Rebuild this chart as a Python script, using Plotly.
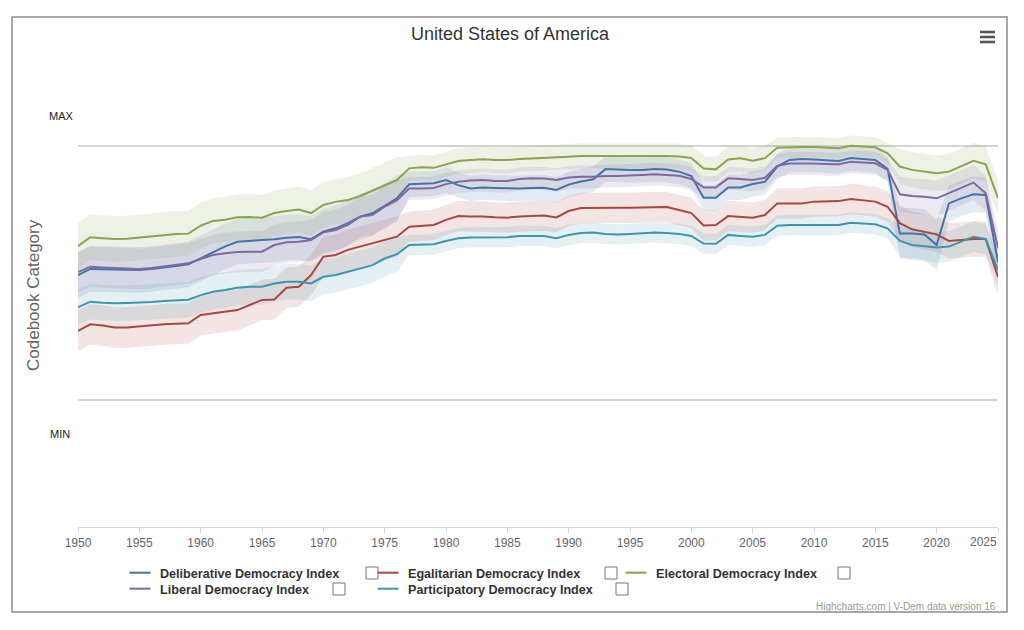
import plotly.graph_objects as go

# ---------------- data ----------------
years = list(range(1950, 2026))

deliberative = [
    0.492, 0.516, 0.515, 0.514, 0.512, 0.512, 0.516, 0.521, 0.528, 0.534,
    0.558, 0.584, 0.605, 0.623, 0.626, 0.630, 0.633, 0.639, 0.642, 0.633,
    0.663, 0.676, 0.696, 0.722, 0.735, 0.764, 0.794, 0.849, 0.850, 0.853,
    0.866, 0.846, 0.833, 0.837, 0.835, 0.833, 0.833, 0.835, 0.836, 0.827,
    0.848, 0.860, 0.869, 0.909, 0.907, 0.906, 0.906, 0.909, 0.907, 0.899,
    0.882, 0.796, 0.796, 0.837, 0.837, 0.850, 0.859, 0.919, 0.945, 0.949,
    0.947, 0.945, 0.941, 0.953, 0.949, 0.945, 0.910, 0.656, 0.656, 0.652,
    0.610, 0.774, 0.794, 0.810, 0.807, 0.543,
]
egalitarian = [
    0.272, 0.298, 0.293, 0.285, 0.285, 0.290, 0.295, 0.298, 0.300, 0.302,
    0.335, 0.341, 0.348, 0.354, 0.374, 0.394, 0.396, 0.442, 0.446, 0.492,
    0.564, 0.571, 0.591, 0.604, 0.617, 0.630, 0.643, 0.682, 0.685, 0.689,
    0.709, 0.724, 0.722, 0.722, 0.719, 0.718, 0.722, 0.724, 0.726, 0.719,
    0.744, 0.756, 0.757, 0.757, 0.757, 0.757, 0.758, 0.761, 0.760, 0.748,
    0.736, 0.687, 0.689, 0.724, 0.720, 0.718, 0.728, 0.774, 0.774, 0.774,
    0.781, 0.781, 0.783, 0.791, 0.787, 0.781, 0.761, 0.696, 0.672, 0.663,
    0.652, 0.626, 0.630, 0.634, 0.634, 0.484,
]
electoral = [
    0.606, 0.641, 0.637, 0.634, 0.635, 0.639, 0.644, 0.650, 0.654, 0.655,
    0.686, 0.705, 0.710, 0.719, 0.720, 0.718, 0.736, 0.744, 0.750, 0.736,
    0.768, 0.780, 0.787, 0.803, 0.825, 0.846, 0.866, 0.912, 0.916, 0.914,
    0.928, 0.941, 0.945, 0.948, 0.945, 0.945, 0.949, 0.951, 0.952, 0.955,
    0.958, 0.961, 0.961, 0.961, 0.961, 0.962, 0.961, 0.961, 0.961, 0.959,
    0.953, 0.911, 0.908, 0.947, 0.952, 0.942, 0.952, 0.993, 0.995, 0.996,
    0.996, 0.994, 0.991, 1.001, 0.998, 0.995, 0.971, 0.919, 0.906, 0.899,
    0.893, 0.899, 0.919, 0.942, 0.928, 0.795,
]
liberal = [
    0.504, 0.525, 0.522, 0.519, 0.517, 0.516, 0.520, 0.526, 0.531, 0.538,
    0.555, 0.571, 0.578, 0.583, 0.584, 0.584, 0.610, 0.621, 0.623, 0.630,
    0.660, 0.669, 0.689, 0.722, 0.728, 0.761, 0.787, 0.833, 0.833, 0.835,
    0.850, 0.859, 0.864, 0.866, 0.862, 0.862, 0.870, 0.873, 0.872, 0.866,
    0.876, 0.879, 0.879, 0.882, 0.882, 0.883, 0.886, 0.889, 0.886, 0.883,
    0.870, 0.837, 0.837, 0.873, 0.870, 0.866, 0.875, 0.922, 0.931, 0.932,
    0.931, 0.929, 0.928, 0.938, 0.936, 0.932, 0.906, 0.810, 0.803, 0.800,
    0.794, 0.814, 0.833, 0.856, 0.814, 0.597,
]
participatory = [
    0.365, 0.387, 0.383, 0.381, 0.382, 0.383, 0.386, 0.390, 0.393, 0.395,
    0.413, 0.426, 0.433, 0.442, 0.446, 0.446, 0.459, 0.466, 0.466, 0.459,
    0.485, 0.492, 0.505, 0.519, 0.531, 0.557, 0.574, 0.610, 0.611, 0.613,
    0.626, 0.637, 0.640, 0.641, 0.641, 0.641, 0.646, 0.647, 0.646, 0.637,
    0.650, 0.657, 0.659, 0.654, 0.652, 0.654, 0.656, 0.659, 0.657, 0.654,
    0.646, 0.616, 0.615, 0.650, 0.646, 0.643, 0.650, 0.686, 0.689, 0.689,
    0.689, 0.689, 0.689, 0.698, 0.696, 0.692, 0.676, 0.626, 0.610, 0.604,
    0.600, 0.604, 0.623, 0.643, 0.634, 0.512,
]

# half-widths of the confidence bands (read by era: 1950-76, 1977-2016, 2017-25)
ci_deliberative = [0.09] * 27 + [0.05] * 40 + [0.10] * 4 + [0.07] * 5
ci_egalitarian = [0.08] * 27 + [0.06] * 40 + [0.07] * 9
ci_electoral = [0.09] * 27 + [0.05] * 30 + [0.04] * 10 + [0.07] * 9
ci_liberal = [0.08] * 27 + [0.045] * 40 + [0.07] * 9
ci_participatory = [0.07] * 27 + [0.04] * 40 + [0.06] * 9

series_names = [
    "Deliberative Democracy Index",
    "Egalitarian Democracy Index",
    "Electoral Democracy Index",
    "Liberal Democracy Index",
    "Participatory Democracy Index",
]
series_values = [deliberative, egalitarian, electoral, liberal, participatory]
series_ci = [ci_deliberative, ci_egalitarian, ci_electoral, ci_liberal, ci_participatory]
series_colors = ["#4572A7", "#AA4643", "#89A54E", "#80699B", "#3D96AE"]
series_legend = ["legend", "legend", "legend", "legend2", "legend2"]

x_ticks = list(range(1950, 2026, 5))

# ---------------- layout geometry ----------------
W, H = 1024, 630
ML, MR, MT, MB = 78, 26, 60, 103
PW = W - ML - MR
PH = H - MT - MB
Y_LOW = -0.5
Y_HIGH = Y_LOW + PH / 254.0


def px(x):
    return (x - ML) / PW


def py(y):
    return (H - MB - y) / PH


def rgba(hex_color, a):
    h = hex_color.lstrip("#")
    return "rgba(%d,%d,%d,%.3f)" % (int(h[0:2], 16), int(h[2:4], 16), int(h[4:6], 16), a)


fig = go.Figure()

# bands
for name, vals, ci, col in zip(series_names, series_values, series_ci, series_colors):
    upper = [v + c for v, c in zip(vals, ci)]
    lower = [v - c for v, c in zip(vals, ci)]
    fig.add_trace(go.Scatter(x=years, y=upper, mode="lines", line=dict(width=0, color=col),
                             legendgroup=name, showlegend=False, hoverinfo="skip"))
    fig.add_trace(go.Scatter(x=years, y=lower, mode="lines", line=dict(width=0, color=col),
                             fill="tonexty", fillcolor=rgba(col, 0.14), legendgroup=name,
                             showlegend=False, hoverinfo="skip"))

# lines
for name, vals, col in zip(series_names, series_values, series_colors):
    fig.add_trace(go.Scatter(x=years, y=vals, mode="lines", name=name, legendgroup=name,
                             line=dict(color=col, width=2), showlegend=False))

# legend entries (short line symbols, grouped with the series they toggle)
for name, col, lg in zip(series_names, series_colors, series_legend):
    fig.add_trace(go.Scatter(x=[None], y=[None], mode="markers", name=name, legendgroup=name,
                             marker=dict(symbol="line-ew", size=15, color=col,
                                         line=dict(width=2, color=col)),
                             legend=lg, showlegend=True, hoverinfo="skip"))

FONT = "Liberation Sans"
legend_common = dict(
    orientation="h", xanchor="left", yanchor="middle", traceorder="normal",
    entrywidth=203, entrywidthmode="pixels",
    font=dict(family=FONT, size=12.6, color="#333333", weight="bold"),
    bgcolor="rgba(0,0,0,0)", borderwidth=0, itemwidth=30,
)

annotations = [
    dict(x=px(510), y=py(34), text="United States of America",
         font=dict(family=FONT, size=18, color="#333333")),
    dict(x=px(61), y=py(116), text="MAX", font=dict(family=FONT, size=11, color="#222222")),
    dict(x=px(60), y=py(434), text="MIN", font=dict(family=FONT, size=11, color="#222222")),
    dict(x=px(33), y=py(295), text="Codebook Category", textangle=-90,
         font=dict(family=FONT, size=17, color="#666666")),
    dict(x=px(983), y=py(542), text="2025", font=dict(family=FONT, size=12, color="#666666")),
    dict(x=px(998), y=py(606), text="Highcharts.com | V-Dem data version 16", xanchor="right",
         font=dict(family=FONT, size=10, color="#999999")),
]
for a in annotations:
    a.setdefault("xanchor", "center")
    a.update(xref="paper", yref="paper", yanchor="middle", showarrow=False)

shapes = [
    dict(type="rect", xref="paper", yref="paper", x0=px(12), x1=px(1007), y0=py(17), y1=py(612),
         line=dict(color="#a8a8a8", width=2), fillcolor="rgba(0,0,0,0)", layer="below"),
]
# hamburger menu icon
for yy in (32, 37, 42):
    shapes.append(dict(type="rect", xref="paper", yref="paper", x0=px(980), x1=px(995),
                       y0=py(yy - 1.3), y1=py(yy + 1.3), line=dict(width=0), fillcolor="#555555"))
# legend checkboxes
for cx, cy in [(372, 573), (611, 573), (844, 573), (339, 589), (622, 589)]:
    shapes.append(dict(type="rect", xref="paper", yref="paper", x0=px(cx - 6), x1=px(cx + 6),
                       y0=py(cy + 6), y1=py(cy - 6), line=dict(color="#777777", width=1),
                       fillcolor="#ffffff"))

fig.update_layout(
    width=W, height=H,
    margin=dict(l=ML, r=MR, t=MT, b=MB, autoexpand=False),
    paper_bgcolor="#ffffff", plot_bgcolor="#ffffff",
    showlegend=True,
    legend=dict(x=px(120), y=py(573), **legend_common),
    legend2=dict(x=px(120), y=py(589), **legend_common),
    xaxis=dict(range=[1950, 2025], tickvals=x_ticks,
               ticktext=[str(t) if t != 2025 else "" for t in x_ticks],
               showgrid=False, zeroline=False, showline=True, linecolor="#ccd6eb", linewidth=1,
               ticks="outside", ticklen=5, tickcolor="#ccd6eb",
               tickfont=dict(family=FONT, size=12, color="#666666")),
    yaxis=dict(range=[Y_LOW, Y_HIGH], tickvals=[0, 1], showticklabels=False,
               showgrid=True, gridcolor="#d4d4d4", gridwidth=1.5, zeroline=False,
               showline=False, ticks=""),
    annotations=annotations,
    shapes=shapes,
    hovermode="x",
)

fig.write_html("out.html")
